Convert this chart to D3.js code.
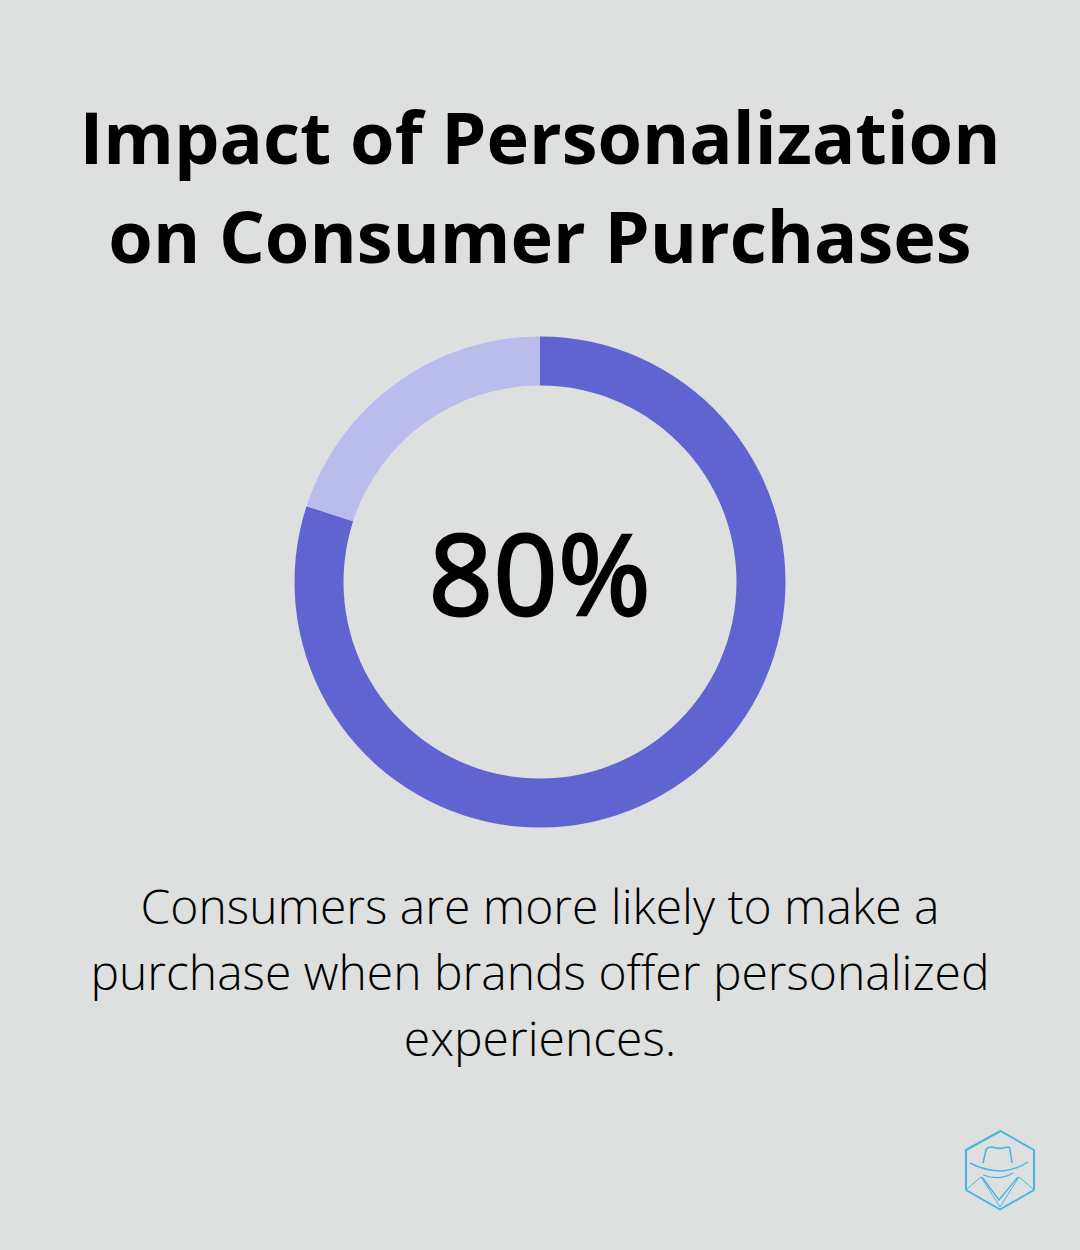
<!DOCTYPE html>
<html><head><meta charset="utf-8">
<script src="https://cdnjs.cloudflare.com/ajax/libs/d3/7.8.5/d3.min.js"></script>
<style>html,body{margin:0;padding:0;background:#dee0df}svg{display:block}text{font-family:"Open Sans",sans-serif;text-anchor:middle}</style>
</head><body><svg id="c" width="1080" height="1250"></svg>
<script>
const titleLines=["Impact of Personalization","on Consumer Purchases"];
const shareLabels=["Personalized","Other"];
const shareValues=[80,20];
const shareColors=["#5f64d1","#babcec"];
const centerLabel="80%";
const captionLines=["Consumers are more likely to make a","purchase when brands offer personalized","experiences."];
const svg=d3.select("#c");
svg.selectAll("text.t").data(titleLines).join("text").attr("class","t").attr("x",540).attr("y",(d,i)=>164-i*1+i*100).attr("font-size",72).attr("font-weight",700).attr("fill","#000").text(d=>d);
const pie=d3.pie().sort(null).value(d=>d)(shareValues);
const arc=d3.arc().innerRadius(196.5).outerRadius(245.5);
svg.append("g").attr("transform","translate(540,582)").selectAll("path").data(pie).join("path").attr("d",arc).attr("fill",(d,i)=>shareColors[i]);
svg.append("text").attr("x",540).attr("y",614.5).attr("font-size",112).attr("letter-spacing",0.6).attr("fill","#000").attr("stroke","#000").attr("stroke-width",2.8).text(centerLabel);
svg.selectAll("text.c").data(captionLines).join("text").attr("class","c").attr("x",540).attr("y",(d,i)=>924+i*66).attr("font-size",48).attr("font-weight",300).attr("fill","#000").text(d=>d);
const logo=svg.append("g").attr("fill","none").attr("stroke","#45b6e6").attr("stroke-width",2).attr("stroke-linejoin","round");
logo.append("path").attr("d","M1000.5 1131L1034 1150V1190L1000 1209.5L966 1190V1150Z");
logo.append("path").attr("stroke-width",1.6).attr("d","M983 1163L986 1150Q987 1147 992 1147Q998 1149 1003 1148L1008 1147Q1010 1147 1010 1150L1012 1163");
logo.append("path").attr("stroke-width",1.5).attr("d","M970 1163Q985 1171 1002 1171Q1016 1170 1028 1162");
logo.append("path").attr("stroke-width",1.3).attr("d","M983 1175Q1000 1181 1013 1173");
logo.append("path").attr("stroke-width",1.4).attr("d","M982 1177L999 1200L1018 1177");
logo.append("path").attr("stroke-width",1).attr("d","M967 1189L981 1177L1000 1207L1019 1177L1033 1189");
</script></body></html>
